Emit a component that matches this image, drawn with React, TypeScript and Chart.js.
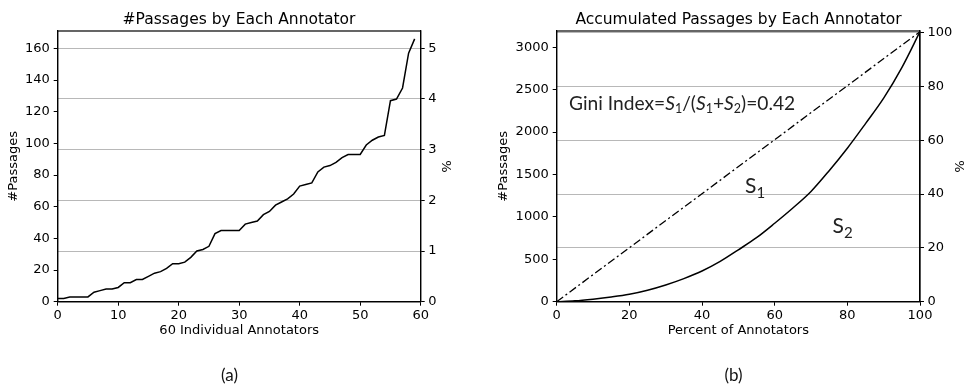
import React, { useEffect, useRef } from 'react';
import { Chart, registerables } from 'chart.js';

Chart.register(...registerables);

// ---------- data ----------
const passagesPerAnnotator = [
  2, 2, 3, 3, 3, 3, 6, 7, 8, 8,
  9, 12, 12, 14, 14, 16, 18, 19, 21, 24,
  24, 25, 28, 32, 33, 35, 43, 45, 45, 45,
  45, 49, 50, 51, 55, 57, 61, 63, 65, 68,
  73, 74, 75, 82, 85, 86, 88, 91, 93, 93,
  93, 99, 102, 104, 105, 127, 128, 135, 157, 166,
];

const percentOfAnnotators = [0, 5, 10, 15, 20, 25, 30, 35, 40, 45, 50, 55, 60, 65, 70, 75, 80, 85, 90, 95, 100];
const accumulatedPassages = [0, 10, 30, 55, 87, 135, 197, 272, 362, 475, 612, 755, 925, 1105, 1300, 1545, 1810, 2100, 2400, 2760, 3184];

const equalityX = [0, 100];
const equalityY = [0, 3184];

const leftTitle = '#Passages by Each Annotator';
const rightTitle = 'Accumulated Passages by Each Annotator';
const leftXLabel = '60 Individual Annotators';
const rightXLabel = 'Percent of Annotators';
const yLabel = '#Passages';
const pctLabel = '%';

// tick values
const leftXTicks = [0, 10, 20, 30, 40, 50, 60];
const leftYTicks = [0, 20, 40, 60, 80, 100, 120, 140, 160];
const leftPctTicks = [0, 1, 2, 3, 4, 5];
const rightXTicks = [0, 20, 40, 60, 80, 100];
const rightYTicks = [0, 500, 1000, 1500, 2000, 2500, 3000];
const rightPctTicks = [0, 20, 40, 60, 80, 100];

// axis ranges
const leftX = { min: 0, max: 60, ticks: leftXTicks };
const leftY = { min: 0, max: 171, ticks: leftYTicks };
const leftPct = { min: 0, max: 5.34, ticks: leftPctTicks };
const rightX = { min: 0, max: 100, ticks: rightXTicks };
const rightY = { min: 0, max: 3192, ticks: rightYTicks };
const rightPct = { min: 0, max: 100.6, ticks: rightPctTicks };

// ---------- styles ----------
const FONT = "'DejaVu Sans', sans-serif";
const NOTE_FONT = "'Lato', 'Open Sans', sans-serif";
const TICK_FONT = { family: FONT, size: 13 };
const GRID_GREY = '#b8b8b8';

type Part = { t: string; italic?: boolean; sub?: boolean };

function drawRich(ctx: CanvasRenderingContext2D, x: number, y: number, parts: Part[], size: number, subSize: number, subDrop: number) {
  let cx = x;
  ctx.textBaseline = 'alphabetic';
  ctx.textAlign = 'left';
  for (const p of parts) {
    const fs = p.sub ? subSize : size;
    ctx.font = `${p.italic ? 'italic ' : ''}${fs}px ${NOTE_FONT}`;
    ctx.fillText(p.t, cx, p.sub ? y + subDrop : y);
    cx += ctx.measureText(p.t).width;
  }
}

const framePlugin = {
  id: 'frame',
  afterDraw(chart: any) {
    const { ctx, chartArea } = chart;
    const { left, top, right, bottom } = chartArea;
    ctx.save();
    ctx.strokeStyle = '#000';
    ctx.lineWidth = 1.2;
    ctx.strokeRect(left, top, right - left, bottom - top);
    ctx.restore();
  },
};

const fixTicks = (values: number[]) => (s: any) => {
  s.ticks = values.map((v) => ({ value: v }));
};
const plainLabel = (v: any) => String(v);

function baseOptions(opts: {
  title: string; xLabel: string; x: any; y: any; pct: any;
  leftW: number; rightW: number; yTitlePad: number; pctTitlePad: number;
}) {
  const tickGrid = { drawOnChartArea: false, color: '#000', tickLength: 4, tickWidth: 1 };
  const border = { display: true, color: '#000', width: 1.2 };
  return {
    responsive: false,
    animation: false,
    events: [],
    layout: { padding: { left: 0, right: 0, top: 0, bottom: 48.8 } },
    plugins: {
      legend: { display: false },
      tooltip: { enabled: false },
      title: {
        display: true,
        text: opts.title,
        color: '#000',
        font: { family: FONT, size: 15.5, weight: 'normal' },
        padding: { top: 10.5, bottom: 1.9 },
      },
    },
    scales: {
      x: {
        type: 'linear',
        position: 'bottom',
        min: opts.x.min,
        max: opts.x.max,
        afterBuildTicks: fixTicks(opts.x.ticks),
        ticks: { color: '#000', font: TICK_FONT, padding: 2, maxRotation: 0, autoSkip: false, callback: plainLabel },
        grid: tickGrid,
        border,
        title: { display: true, text: opts.xLabel, color: '#000', font: TICK_FONT, padding: { top: 0, bottom: 0 } },
        afterFit: (s: any) => { s.height = 36.5; },
      },
      y: {
        type: 'linear',
        position: 'left',
        min: opts.y.min,
        max: opts.y.max,
        afterBuildTicks: fixTicks(opts.y.ticks),
        ticks: { color: '#000', font: TICK_FONT, padding: 4, autoSkip: false, callback: plainLabel },
        grid: tickGrid,
        border,
        title: { display: true, text: yLabel, color: '#000', font: TICK_FONT, padding: { top: opts.yTitlePad, bottom: 0 } },
        afterFit: (s: any) => { s.width = opts.leftW; },
      },
      y1: {
        type: 'linear',
        position: 'right',
        display: true,
        min: opts.pct.min,
        max: opts.pct.max,
        afterBuildTicks: fixTicks(opts.pct.ticks),
        ticks: { color: '#000', font: TICK_FONT, padding: 3.5, autoSkip: false, callback: plainLabel },
        grid: { drawOnChartArea: true, color: GRID_GREY, tickColor: '#000', tickLength: 4, tickWidth: 1, lineWidth: 1 },
        border,
        title: { display: true, text: pctLabel, color: '#000', font: TICK_FONT, padding: { top: opts.pctTitlePad, bottom: 0 } },
        afterFit: (s: any) => { s.width = opts.rightW; },
      },
    },
  };
}

function LeftChart() {
  const ref = useRef<HTMLCanvasElement | null>(null);
  useEffect(() => {
    if (!ref.current) return;
    const captionPlugin = {
      id: 'captionA',
      afterDraw(chart: any) {
        const ctx = chart.ctx;
        ctx.save();
        ctx.fillStyle = '#111';
        ctx.font = `17px ${NOTE_FONT}`;
        ctx.textAlign = 'center';
        ctx.textBaseline = 'middle';
        ctx.fillText('(a)', 229.5, 376);
        ctx.restore();
      },
    };
    const chart = new Chart(ref.current, {
      type: 'line',
      data: {
        datasets: [
          {
            data: passagesPerAnnotator.map((v, i) => ({ x: i, y: v })),
            borderColor: '#000',
            borderWidth: 1.5,
            pointRadius: 0,
            tension: 0,
            fill: false,
            yAxisID: 'y',
          },
        ],
      },
      options: baseOptions({
        title: leftTitle, xLabel: leftXLabel, x: leftX, y: leftY, pct: leftPct,
        leftW: 57.7, rightW: 57.3, yTitlePad: 5.5, pctTitlePad: 25,
      }) as any,
      plugins: [framePlugin, captionPlugin],
    });
    return () => chart.destroy();
  }, []);
  return <canvas ref={ref} width={478} height={387} style={{ position: 'absolute', left: 0, top: 0, width: 478, height: 387 }} />;
}

function RightChart() {
  const ref = useRef<HTMLCanvasElement | null>(null);
  useEffect(() => {
    if (!ref.current) return;
    const notesPlugin = {
      id: 'notesB',
      afterDraw(chart: any) {
        const ctx = chart.ctx;
        ctx.save();
        ctx.fillStyle = '#222';
        // Gini index formula
        drawRich(ctx, 79, 110, [
          { t: 'Gini Index=' },
          { t: 'S', italic: true },
          { t: '1', sub: true },
          { t: '/(' },
          { t: 'S', italic: true },
          { t: '1', sub: true },
          { t: '+' },
          { t: 'S', italic: true },
          { t: '2', sub: true },
          { t: ')=0.42' },
        ], 19.2, 12.5, 3);
        // area labels
        drawRich(ctx, 255, 192.5, [{ t: 'S' }, { t: '1', sub: true }], 21, 15, 5);
        drawRich(ctx, 342.5, 233, [{ t: 'S' }, { t: '2', sub: true }], 21, 15, 5);
        // caption
        ctx.fillStyle = '#111';
        ctx.font = `17px ${NOTE_FONT}`;
        ctx.textAlign = 'center';
        ctx.textBaseline = 'middle';
        ctx.fillText('(b)', 243.5, 376);
        ctx.restore();
      },
    };
    const chart = new Chart(ref.current, {
      type: 'line',
      data: {
        datasets: [
          {
            data: percentOfAnnotators.map((p, i) => ({ x: p, y: accumulatedPassages[i] })),
            borderColor: '#000',
            borderWidth: 1.5,
            pointRadius: 0,
            cubicInterpolationMode: 'monotone',
            fill: false,
            yAxisID: 'y',
          },
          {
            data: equalityX.map((p, i) => ({ x: p, y: equalityY[i] })),
            borderColor: '#000',
            borderWidth: 1.3,
            borderDash: [8, 3, 2, 3],
            pointRadius: 0,
            fill: false,
            yAxisID: 'y',
          },
        ],
      },
      options: baseOptions({
        title: rightTitle, xLabel: rightXLabel, x: rightX, y: rightY, pct: rightPct,
        leftW: 66.7, rightW: 67, yTitlePad: 5.5, pctTitlePad: 21,
      }) as any,
      plugins: [framePlugin, notesPlugin],
    });
    return () => chart.destroy();
  }, []);
  return <canvas ref={ref} width={497} height={387} style={{ position: 'absolute', left: 490, top: 0, width: 497, height: 387 }} />;
}

export default function App() {
  return (
    <div style={{ position: 'fixed', left: 0, top: 0, width: 966, height: 387, overflow: 'hidden', background: '#fff' }}>
      <LeftChart />
      <RightChart />
    </div>
  );
}
